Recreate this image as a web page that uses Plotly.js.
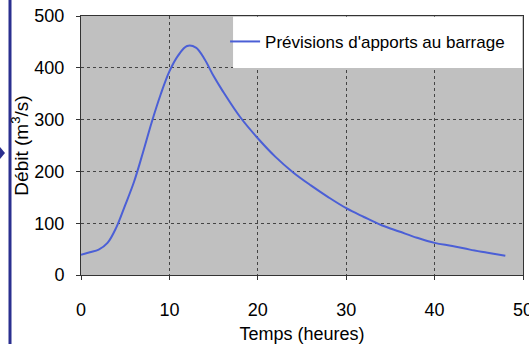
<!DOCTYPE html>
<html>
<head>
<meta charset="utf-8">
<script src="https://cdn.plot.ly/plotly-3.0.1.min.js"></script>
<style>
html,body{margin:0;padding:0;background:#ffffff;}
#chart{width:529px;height:344px;}
</style>
</head>
<body>
<div id="chart"></div>
<script>
var hours = [0,1,2,3,4,5,6,7,8,9,10,11,12,13,14,15,16,18,20,22,24,26,28,30,32,34,36,38,40,42,44,46,48];
var flow  = [39,44,49,62,92,135,180,236,295,348,393,424,442,439,416,384,356,305,264,228,198,173,150,129,112,96,84,72,62,56,49,43,37];
var seriesName = "Prévisions d'apports au barrage";
var xTicks = [0,10,20,30,40,50];
var yTicks = [0,100,200,300,400,500];
var xTitle = "Temps (heures)";
var yTitle = "Débit (m<sup>3</sup>/s)";

var fam = "Liberation Sans, Arial, sans-serif";

var trace = {
  x: hours, y: flow, type: 'scatter', mode: 'lines', name: seriesName,
  line: {color: '#4b5fd6', width: 2, shape: 'spline', smoothing: 1},
  showlegend: true
};

var axisCommon = {
  showline: true, linecolor: '#333333', linewidth: 1, mirror: true,
  ticks: 'outside', ticklen: 4, tickcolor: '#333333',
  showgrid: true, gridcolor: '#444444', griddash: 'dot', gridwidth: 1,
  zeroline: false,
  tickfont: {family: fam, size: 18, color: '#000000'}
};

var layout = {
  width: 529, height: 344,
  margin: {l: 81, r: 6, t: 16, b: 69},
  paper_bgcolor: '#ffffff',
  plot_bgcolor: '#c0c0c0',
  xaxis: Object.assign({}, axisCommon, {
    range: [0, 50], tickvals: xTicks, ticktext: xTicks.map(String),
    ticklabelstandoff: 14, ticklabeloverflow: 'allow',
    title: {text: xTitle, font: {family: fam, size: 18, color: '#000000'}, standoff: 8}
  }),
  yaxis: Object.assign({}, axisCommon, {
    range: [0, 500], tickvals: yTicks, ticktext: yTicks.map(String),
    ticklabelstandoff: 8,
    title: {text: yTitle, font: {family: fam, size: 19, color: '#000000'}, standoff: 0}
  }),
  legend: {
    x: 0.326, xanchor: 'left', y: 0.9, yanchor: 'middle',
    bgcolor: 'rgba(0,0,0,0)', borderwidth: 0,
    font: {family: fam, size: 17, color: '#000000'}
  },
  shapes: [
    {type: 'rect', xref: 'paper', yref: 'paper', x0: 0.344, x1: 0.998, y0: 0.799, y1: 0.997,
     fillcolor: '#ffffff', line: {width: 0}, layer: 'above'},
    {type: 'line', xref: 'paper', yref: 'paper', xsizemode: 'pixel', ysizemode: 'pixel',
     xanchor: 0, yanchor: 0, x0: -71, x1: -71, y0: -70, y1: 280,
     line: {color: '#2b2f8f', width: 3}},
    {type: 'path', xref: 'paper', yref: 'paper', xsizemode: 'pixel', ysizemode: 'pixel',
     xanchor: 0, yanchor: 0, path: 'M-81,128 L-76,122 L-81,116 Z',
     fillcolor: '#2b2f8f', line: {width: 0}}
  ]
};

Plotly.newPlot('chart', [trace], layout, {displayModeBar: false, staticPlot: true});
</script>
</body>
</html>
